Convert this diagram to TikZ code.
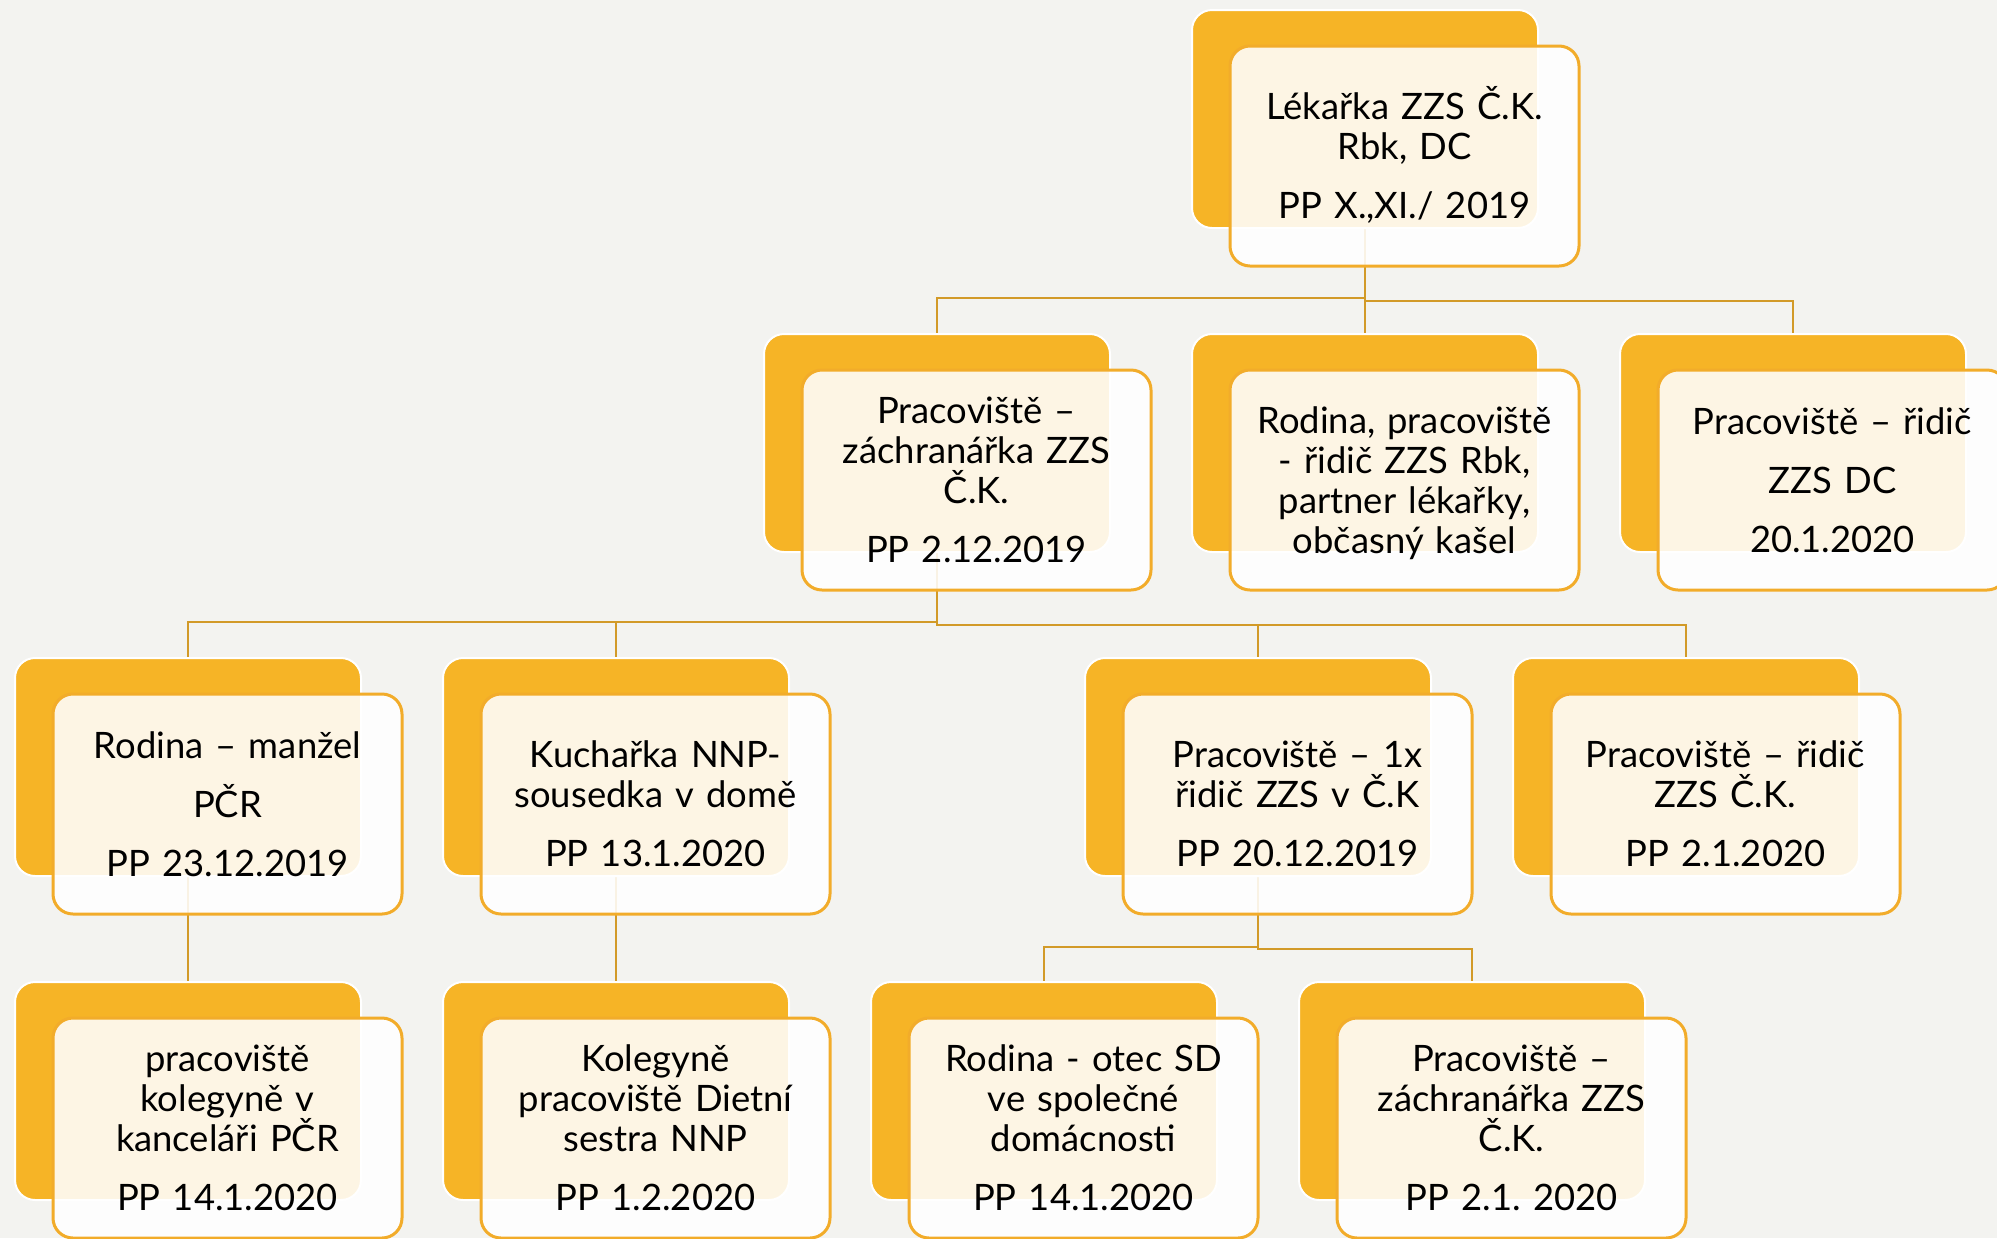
\documentclass[tikz,border=0pt]{standalone}
\usepackage{fontspec}
\setmainfont{Lato}
\frenchspacing
\pgfdeclarelayer{bg}
\pgfsetlayers{bg,main}
\definecolor{pagebg}{HTML}{F3F3F0}
\definecolor{backorange}{HTML}{F6B426}
\definecolor{frontline}{HTML}{F2AC2A}
\definecolor{connline}{HTML}{D29A28}
\tikzset{
  backbox/.style={rectangle, rounded corners=10pt, fill=backorange, draw=white,
    line width=1pt, minimum width=173pt, minimum height=109pt, inner sep=0pt, outer sep=0pt},
  frontbox/.style={rectangle, rounded corners=10pt, fill=white, fill opacity=0.88,
    draw=frontline, line width=1.5pt, minimum width=174.5pt, minimum height=110pt,
    inner sep=0pt, outer sep=0pt},
  boxtext/.style={text width=175pt, align=center, anchor=base, inner sep=0pt,
    font=\fontsize{18.2}{20}\selectfont\frenchspacing, text=black},
  conn/.style={draw=connline, line width=1.3pt}
}
% #1 name, #2 back-left x, #3 back-top y, #4 text block height (px), #5 text
\newcommand{\orgbox}[5]{%
  \node[backbox] (#1b) at (#2+173,#3+109) {};
  \node[frontbox] (#1f) at (#2+212.5,#3+146) {};
  \node[boxtext] (#1) at (#2+212.5,#3+146-#4/2+26) {#5};
}
\begin{document}
\begin{tikzpicture}[x=0.5pt,y=-0.5pt]
\useasboundingbox (0,0) rectangle (1997,1238);
\clip (0,0) rectangle (1997,1238);
\begin{pgfonlayer}{bg}
\fill[pagebg] (0,0) rectangle (1997,1238);
\end{pgfonlayer}

\coordinate (r1a) at (0,298);
\coordinate (r1b) at (0,301);
\coordinate (r2a) at (0,622);
\coordinate (r2b) at (0,625);
\coordinate (r3a) at (0,947);
\coordinate (r3b) at (0,949);

\orgbox{top}{1192}{10}{125}{Lékařka ZZS Č.K.\\ Rbk, DC\\[9.5pt] PP X.,XI./ 2019}

\orgbox{la}{764}{334}{165}{Pracoviště –\\ záchranářka ZZS\\ Č.K.\\[9.5pt] PP 2.12.2019}
\orgbox{lb}{1192}{334}{146}{Rodina, pracoviště\\ - řidič ZZS Rbk,\\ partner lékařky,\\ občasný kašel}
\orgbox{lc}{1620}{334}{144}{Pracoviště – řidič\\[9.5pt] ZZS DC\\[9.5pt] 20.1.2020}

\orgbox{ma}{15}{658}{144}{Rodina – manžel\\[9.5pt] PČR\\[9.5pt] PP 23.12.2019}
\orgbox{mb}{443}{658}{125}{Kuchařka NNP-\\ sousedka v domě\\[9.5pt] PP 13.1.2020}
\orgbox{mc}{1085}{658}{125}{Pracoviště – 1x\\ řidič ZZS v Č.K\\[9.5pt] PP 20.12.2019}
\orgbox{md}{1513}{658}{125}{Pracoviště – řidič\\ ZZS Č.K.\\[9.5pt] PP 2.1.2020}

\orgbox{na}{15}{982}{165}{pracoviště\\ kolegyně v\\ kanceláři PČR\\[9.5pt] PP 14.1.2020}
\orgbox{nb}{443}{982}{165}{Kolegyně\\ pracoviště Dietní\\ sestra NNP\\[9.5pt] PP 1.2.2020}
\orgbox{nc}{871}{982}{165}{Rodina - otec SD\\ ve společné\\ domácnosti\\[9.5pt] PP 14.1.2020}
\orgbox{nd}{1299}{982}{165}{Pracoviště –\\ záchranářka ZZS\\ Č.K.\\[9.5pt] PP 2.1. 2020}

\begin{pgfonlayer}{bg}
\draw[conn] (topb.south) -- (topb.south |- r1a) -| (lab.north);
\draw[conn] (topb.south) -- (lbb.north);
\draw[conn] (topb.south |- r1a) -- (topb.south |- r1b) -| (lcb.north);

\draw[conn] (lab.south) -- (lab.south |- r2a) -| (mab.north);
\draw[conn] (lab.south |- r2a) -| (mbb.north);
\draw[conn] (lab.south |- r2a) -- (lab.south |- r2b) -| (mcb.north);
\draw[conn] (lab.south |- r2b) -| (mdb.north);

\draw[conn] (mab.south) -- (nab.north);
\draw[conn] (mbb.south) -- (nbb.north);
\draw[conn] (mcb.south) -- (mcb.south |- r3a) -| (ncb.north);
\draw[conn] (mcb.south |- r3a) -- (mcb.south |- r3b) -| (ndb.north);
\end{pgfonlayer}
\end{tikzpicture}
\end{document}
